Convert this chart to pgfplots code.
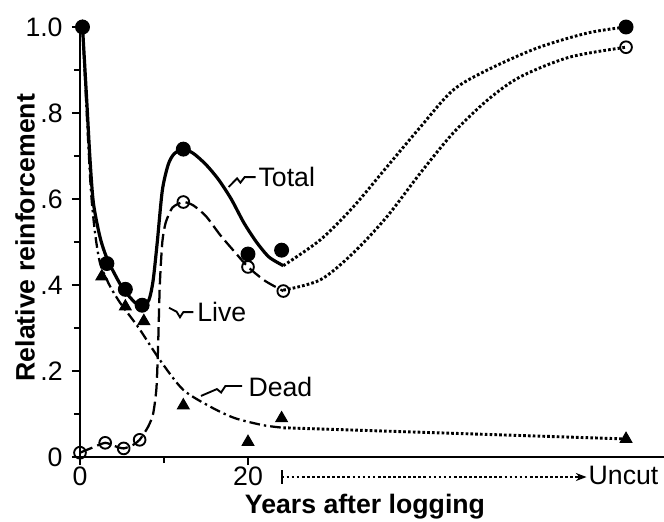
\documentclass[border=0pt]{standalone}
\usepackage{fontspec}
\setmainfont{Liberation Sans}
\usepackage{pgfplots}
\pgfplotsset{compat=1.18}
\usetikzlibrary{arrows.meta}

\begin{document}
\begin{tikzpicture}
\path[use as bounding box] (-30pt,-24pt) rectangle (219pt,171.375pt);
\begin{axis}[
  at={(0pt,0pt)}, anchor=south west, scale only axis,
  width=219pt, height=162.86pt,
  xmin=0, xmax=69.52, ymin=0, ymax=1.01,
  axis x line=bottom, axis y line=left,
  axis line style={-, line width=0.8pt},
  tick style={line width=0.8pt, black},
  tick align=outside,
  major tick length=3pt, minor tick length=2.3pt,
  xtick={0,20}, xticklabels={0,20},
  minor xtick={10},
  ytick={0,0.2,0.4,0.6,0.8,1.0}, yticklabels={0,.2,.4,.6,.8,1.0},
  minor ytick={0.1,0.3,0.5,0.7,0.9},
  extra x ticks={64.7}, extra x tick labels={Uncut},
  extra x tick style={tick style={draw=none}},
  ticklabel style={font=\fontsize{10}{12}\selectfont},
  xticklabel style={yshift=3pt},
  xlabel={Years after logging},
  ylabel={Relative reinforcement},
  label style={font=\fontsize{10}{12}\selectfont\bfseries},
  xlabel style={at={(axis description cs:0.488,-0.115)}, anchor=center},
  ylabel style={at={(axis description cs:-0.094,0.505)}, anchor=center},
  clip=false,
]
% Total solid curve
\addplot[black, line width=1.2pt, smooth, tension=0.45] coordinates {
(0.3,1.0)(0.8,0.83)(1.2,0.69)(1.6,0.59)(2.4,0.51)(3.3,0.458)(5.0,0.395)(6.5,0.36)(7.4,0.35)(8.2,0.365)(8.7,0.41)(9.2,0.50)(9.8,0.62)(10.5,0.68)(11.2,0.705)(12.3,0.716)(13.5,0.706)(15,0.68)(16.5,0.645)(18,0.60)(19.5,0.545)(21,0.50)(22.5,0.465)(24.2,0.445)};
% Total dotted continuation
\addplot[black, line width=1.1pt, dash pattern=on 1pt off 0.8pt, smooth] coordinates {
(24.2,0.445)(28.6,0.505)(32.5,0.581)(36.5,0.674)(40.5,0.767)(44.4,0.853)(48.5,0.90)(54.4,0.951)(60.4,0.986)(65,1.0)};
% Live dashed curve
\addplot[black, line width=0.85pt, dash pattern=on 5pt off 2pt, smooth, tension=0.4] coordinates {
(0,0.01)(1.5,0.022)(3,0.033)(4.2,0.025)(5.2,0.02)(6.3,0.028)(7.1,0.04)(8.1,0.07)(8.7,0.10)(9.1,0.16)(9.3,0.26)(9.5,0.40)(9.8,0.50)(10.2,0.545)(11,0.58)(12.3,0.593)(13.5,0.585)(15,0.56)(16.7,0.516)(18.5,0.475)(20,0.442)(22,0.41)(24.2,0.386)};
% Live dotted continuation
\addplot[black, line width=1.1pt, dash pattern=on 1pt off 0.8pt, smooth] coordinates {
(24.2,0.388)(28.6,0.412)(32.5,0.474)(36.5,0.558)(40.5,0.66)(44.4,0.753)(48.5,0.83)(52.4,0.884)(58.3,0.93)(65,0.953)};
% Dead dash-dot curve
\addplot[black, line width=0.85pt, dash pattern=on 4pt off 1.5pt on 0.9pt off 1.5pt, smooth, tension=0.45] coordinates {
(0.3,1.0)(0.8,0.80)(1.3,0.62)(1.8,0.52)(2.4,0.45)(3.5,0.40)(4.8,0.358)(7.0,0.30)(9.5,0.226)(12.3,0.156)(15.8,0.114)(18.5,0.09)(21.8,0.074)(24.2,0.068)};
% Dead dotted continuation
\addplot[black, line width=1.1pt, dash pattern=on 1pt off 0.8pt] coordinates {
(24.2,0.068)(65,0.042)};
% Markers: Dead (triangles)
\addplot[only marks, mark=triangle*, mark size=2.5pt, black] coordinates {
(0.3,1.0)(2.6,0.42)(5.4,0.35)(7.6,0.316)(12.3,0.12)(20,0.035)(24,0.09)(65,0.042)};
% Markers: Total (filled circles)
\addplot[only marks, mark=*, mark size=2.6pt, black] coordinates {
(0.3,1.0)(3.2,0.45)(5.4,0.39)(7.4,0.353)(12.3,0.716)(20,0.472)(24,0.481)(65,1.0)};
% Markers: Live (open circles)
\addplot[only marks, mark=o, mark size=2.2pt, black, mark options={fill=white, line width=0.7pt}] coordinates {
(0,0.01)(3,0.033)(5.2,0.02)(7.1,0.04)(12.3,0.593)(20,0.442)(24.2,0.386)(65,0.953)};
% Annotations
\draw[line width=0.7pt] (axis cs:20.9,0.651) -- (axis cs:19.6,0.651) -- (axis cs:19.1,0.638) -- (axis cs:18.7,0.648) -- (axis cs:17.7,0.628);
\node[anchor=west, inner sep=0pt, font=\fontsize{10}{12}\selectfont] at (axis cs:21.2,0.651) {Total};
\draw[line width=0.7pt] (axis cs:13.5,0.337) -- (axis cs:12.3,0.337) -- (axis cs:11.9,0.325) -- (axis cs:11.5,0.338) -- (axis cs:10.6,0.347);
\node[anchor=west, inner sep=0pt, font=\fontsize{10}{12}\selectfont] at (axis cs:13.9,0.337) {Live};
\draw[line width=0.7pt] (axis cs:19.3,0.165) -- (axis cs:17.3,0.165) -- (axis cs:16.8,0.150) -- (axis cs:16.3,0.158) -- (axis cs:14.4,0.142);
\node[anchor=west, inner sep=0pt, font=\fontsize{10}{12}\selectfont] at (axis cs:20.0,0.163) {Dead};
% Uncut arrow
\draw[line width=0.8pt, dash pattern=on 1pt off 0.9pt] (axis cs:24,-0.0465) -- (axis cs:59.8,-0.0465);
\draw[line width=0.7pt] (axis cs:24,-0.062) -- (axis cs:24,-0.031);
\draw[line width=0.7pt, -{Stealth[length=4pt]}] (axis cs:59.0,-0.0465) -- (axis cs:60.3,-0.0465);
\end{axis}
\end{tikzpicture}
\end{document}
